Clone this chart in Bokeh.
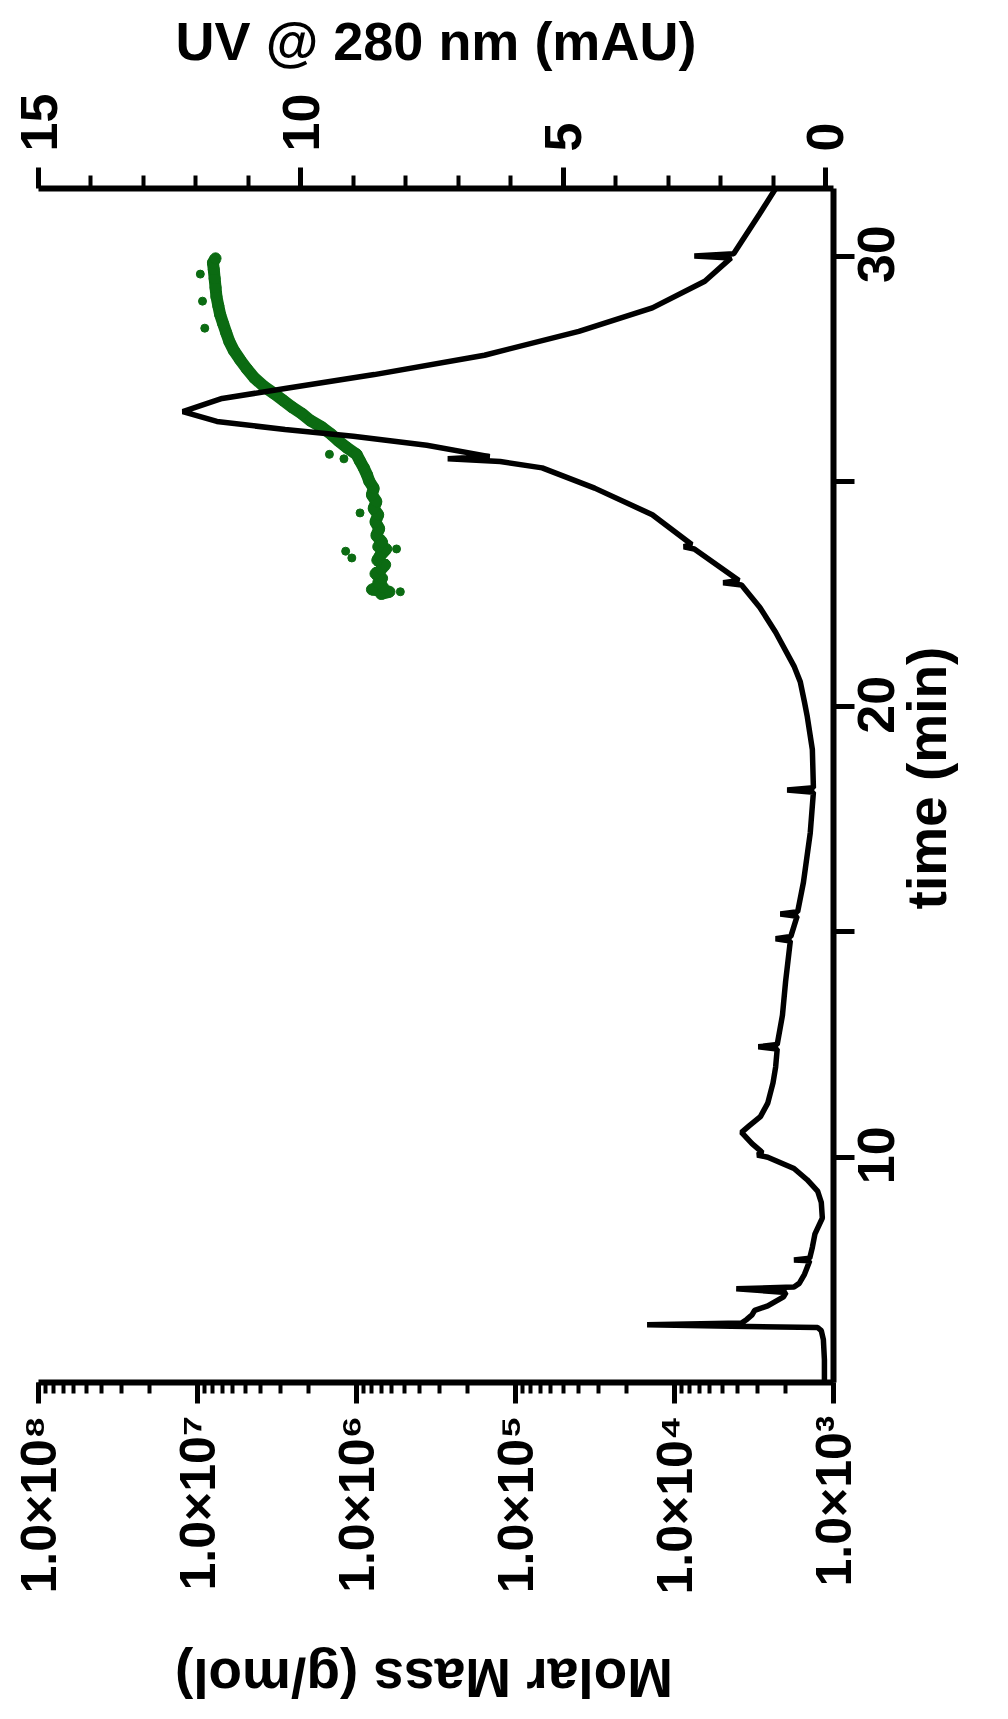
import math
from bokeh.plotting import figure
from bokeh.models import (Range1d, LinearAxis, LinearScale, FixedTicker, LogTicker,
                          CustomJSTickFormatter, ColumnDataSource)
from bokeh.embed import file_html
from bokeh.resources import INLINE

# ---- UV trace (black): time (min) vs UV @ 280 nm (mAU) ----
uv_time = [5.0, 5.5, 5.95, 6.15, 6.22, 6.25, 6.28, 6.32, 6.4, 6.5, 6.6, 6.7, 6.8, 6.9, 7.0,
           7.08, 7.12, 7.2, 7.4, 7.7, 7.72, 7.76, 8.0, 8.3, 8.65, 9.0, 9.25, 9.5, 9.75,
           10.0, 10.05, 10.1, 10.3, 10.55, 10.7, 10.9, 11.2, 11.65, 12.0, 12.4, 12.45, 12.5,
           13.15, 13.9, 14.5, 14.8, 14.85, 14.9, 15.35, 15.4, 15.45, 16.1, 17.2, 18.1, 18.15,
           18.2, 19.05, 19.8, 20.1, 20.55, 20.9, 21.65, 22.2, 22.7, 22.75, 22.8, 23.5, 23.55,
           23.6, 24.26, 24.85, 25.3, 25.44, 25.5, 25.55, 25.8, 26.0, 26.15, 26.33, 26.55,
           26.84, 27.06, 27.37, 27.8, 28.33, 28.85, 29.44, 29.96, 30.0, 30.05, 30.93, 31.5]
uv_mau = [0.02, 0.02, 0.04, 0.08, 0.15, 1.8, 3.4, 1.6, 1.5, 1.4, 1.35, 1.1, 0.95, 0.8, 0.75,
          1.7, 0.6, 0.5, 0.4, 0.3, 0.6, 0.3, 0.25, 0.2, 0.06, 0.08, 0.15, 0.35, 0.6,
          1.1, 1.3, 1.2, 1.4, 1.6, 1.45, 1.24, 1.1, 1.0, 0.95, 0.92, 1.28, 0.92,
          0.82, 0.76, 0.7, 0.67, 0.95, 0.66, 0.54, 0.86, 0.53, 0.42, 0.29, 0.23, 0.73,
          0.23, 0.25, 0.35, 0.4, 0.48, 0.6, 0.95, 1.25, 1.6, 1.95, 1.65, 2.5, 2.7,
          2.55, 3.3, 4.4, 5.4, 6.2, 7.2, 6.4, 7.6, 9.0, 10.3, 11.6, 12.25,
          11.5, 10.3, 8.6, 6.5, 4.7, 3.3, 2.3, 1.8, 2.5, 1.75, 1.26, 0.95]

# ---- Molar mass (green): time (min) vs molar mass (g/mol) ----
mm_time = [22.5, 22.55, 22.6, 22.65, 22.75, 22.85, 22.95, 23.05, 23.15, 23.25, 23.35,
           23.5, 23.55, 23.65, 23.8, 23.95, 24.1, 24.26, 24.4, 24.55, 24.7,
           24.85, 25.0, 25.15, 25.3, 25.45, 25.6, 25.75, 25.9, 26.05, 26.2, 26.35,
           26.5, 26.65, 26.8, 26.95, 27.1, 27.3, 27.5, 27.7, 27.9, 28.1, 28.3, 28.5, 28.7,
           28.9, 29.1, 29.3, 29.5, 29.7, 29.85, 29.95]
molar_mass = [7.0e5, 6.2e5, 8.0e5, 6.8e5, 7.3e5, 6.9e5, 7.6e5, 7.0e5, 6.6e5, 7.4e5, 7.1e5,
              6.5e5, 7.3e5, 6.9e5, 7.5e5, 7.2e5, 7.6e5, 7.3e5, 7.8e5, 7.5e5, 8.0e5,
              7.8e5, 8.3e5, 8.6e5, 9.0e5, 9.5e5, 1.0e6, 1.15e6, 1.3e6, 1.45e6, 1.65e6, 1.95e6,
              2.2e6, 2.55e6, 2.9e6, 3.3e6, 3.8e6, 4.4e6, 4.9e6, 5.4e6, 5.9e6, 6.3e6, 6.6e6, 6.9e6, 7.2e6,
              7.4e6, 7.6e6, 7.7e6, 7.8e6, 7.9e6, 8.0e6, 7.7e6]
# scattered single points off the main band
mm_out_time = [22.55, 23.3, 23.45, 23.5, 24.3, 25.5, 25.6, 28.4, 29.0, 29.6]
mm_out_mass = [5.3e5, 1.07e6, 1.17e6, 5.6e5, 9.5e5, 1.2e6, 1.48e6, 9.0e6, 9.3e6, 9.6e6]

# ---- axes ----
time_ticks = [10, 15, 20, 25, 30]
time_label_ticks = [10, 20, 30]
uv_ticks = [0, 5, 10, 15]
uv_minor_ticks = [1, 2, 3, 4, 6, 7, 8, 9, 11, 12, 13, 14]

FONT = "Liberation Sans"
LABEL_SHIFT = 0.6         # half a tick label's length (min): centres upward-reading labels on ticks
MM_TITLE_START = 12.4     # (UV units) left end of the upside-down molar-mass title
TIME_TITLE_START = 15.5   # (min) lower end of the upward-reading time title

p = figure(frame_width=795, frame_height=1194,
           x_axis_type="log", x_range=Range1d(1e8, 1e3), y_range=Range1d(5, 31.5),
           x_axis_location="below", y_axis_location="right",
           output_backend="svg", toolbar_location=None,
           min_border_left=38, min_border_right=165, min_border_top=188, min_border_bottom=300)
p.extra_x_ranges = {"uv": Range1d(15, -0.153)}
p.extra_x_scales = {"uv": LinearScale()}
p.extra_y_ranges = {"tlab": Range1d(5 + LABEL_SHIFT, 31.5 + LABEL_SHIFT)}
p.grid.visible = False
p.outline_line_color = None
p.background_fill_color = "white"
p.border_fill_color = "white"

uv_axis = LinearAxis(x_range_name="uv",
                     ticker=FixedTicker(ticks=uv_ticks, minor_ticks=uv_minor_ticks))
p.add_layout(uv_axis, "above")

mm_axis = p.below[0]
t_axis = p.right[0]

mm_axis.ticker = LogTicker(num_minor_ticks=10)
mm_axis.formatter = CustomJSTickFormatter(code="""
const sup = {"0":"\u2070","1":"\u00b9","2":"\u00b2","3":"\u00b3","4":"\u2074","5":"\u2075","6":"\u2076","7":"\u2077","8":"\u2078","9":"\u2079"};
const e = Math.round(Math.log10(tick));
return "1.0\u00d710" + String(e).split("").map(c => sup[c]).join("");
""")
t_axis.ticker = FixedTicker(ticks=time_ticks, minor_ticks=[])
t_axis.formatter = CustomJSTickFormatter(code="return '';")

# tick labels of the time axis (reading upward, centred on their ticks)
t_lab_axis = LinearAxis(y_range_name="tlab", ticker=FixedTicker(ticks=time_label_ticks, minor_ticks=[]))
p.add_layout(t_lab_axis, "right")
# axis titles that read upward / upside down, placed as single tick labels
t_title_axis = LinearAxis(ticker=FixedTicker(ticks=[TIME_TITLE_START], minor_ticks=[]),
                          formatter=CustomJSTickFormatter(code="return 'time (min)';"))
p.add_layout(t_title_axis, "right")
mm_title_axis = LinearAxis(x_range_name="uv", ticker=FixedTicker(ticks=[MM_TITLE_START], minor_ticks=[]),
                           formatter=CustomJSTickFormatter(code="return 'Molar Mass (g/mol)';"))
p.add_layout(mm_title_axis, "below")

for ax in (mm_axis, t_axis, uv_axis, t_lab_axis, t_title_axis, mm_title_axis):
    ax.axis_line_width = 6
    ax.axis_line_color = "black"
    ax.major_tick_line_width = 5
    ax.minor_tick_line_width = 4
    ax.major_tick_in = 0
    ax.minor_tick_in = 0
    ax.major_tick_out = 21
    ax.minor_tick_out = 11
    ax.major_label_text_font = FONT
    ax.major_label_text_font_style = "bold"
    ax.major_label_text_font_size = "52px"
    ax.major_label_text_color = "black"
    ax.major_label_orientation = math.pi / 2
    ax.axis_label_text_font = FONT
    ax.axis_label_text_font_style = "bold"
    ax.axis_label_text_color = "black"

for ax in (t_lab_axis, t_title_axis, mm_title_axis):
    ax.axis_line_color = None
    ax.major_tick_line_color = None
    ax.minor_tick_line_color = None
    ax.major_tick_out = 0
    ax.minor_tick_out = 0

mm_axis.major_label_text_font_size = "50px"
mm_axis.major_label_standoff = 12
uv_axis.major_label_standoff = 16
uv_axis.minor_tick_out = 13
t_axis.major_label_standoff = 0
t_axis.major_label_text_font_size = "0px"
t_lab_axis.major_label_standoff = 22
t_title_axis.major_label_standoff = 12
t_title_axis.major_label_text_font_size = "55px"
mm_title_axis.major_label_orientation = math.pi
mm_title_axis.major_label_text_font_size = "55px"
mm_title_axis.major_label_standoff = 80

uv_axis.axis_label = "UV @ 280 nm (mAU)"
uv_axis.axis_label_text_font_size = "54px"
uv_axis.axis_label_standoff = 20

# ---- data ----
uv_src = ColumnDataSource(dict(t=uv_time, uv=uv_mau))
mm_src = ColumnDataSource(dict(t=mm_time, mm=molar_mass))
mm_out_src = ColumnDataSource(dict(t=mm_out_time, mm=mm_out_mass))

GREEN = "#0b6b12"
p.line(x="mm", y="t", source=mm_src, line_color=GREEN, line_width=12)
p.scatter(x="mm", y="t", source=mm_src, size=11, color=GREEN)
p.scatter(x="mm", y="t", source=mm_out_src, size=8, color=GREEN)
p.line(x="uv", y="t", source=uv_src, x_range_name="uv", line_color="black", line_width=5.5)

open("out.html", "w").write(file_html(p, INLINE))
